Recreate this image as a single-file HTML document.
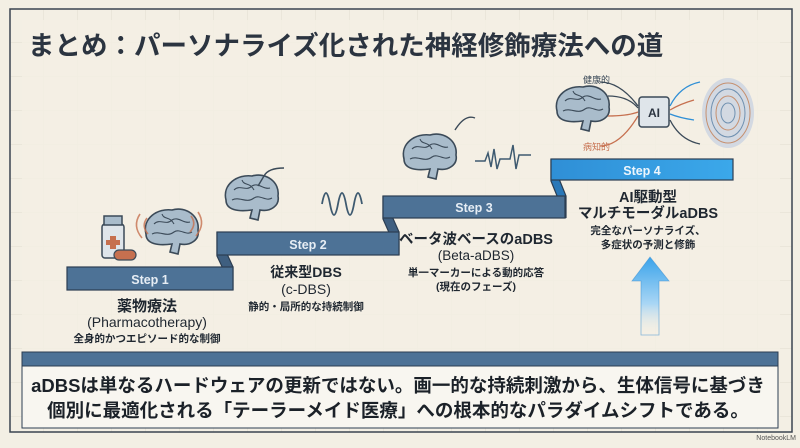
<!DOCTYPE html>
<html><head><meta charset="utf-8"><style>
html,body{margin:0;padding:0;}
body{width:800px;height:443px;overflow:hidden;background:#f3efe4;font-family:"Liberation Sans","Noto Sans CJK JP",sans-serif;}
svg text{font-family:"Liberation Sans","Noto Sans CJK JP",sans-serif;}
</style></head><body>
<svg width="800" height="443" viewBox="0 0 800 443" xmlns="http://www.w3.org/2000/svg">
<defs>
<pattern id="g" width="34" height="34" patternUnits="userSpaceOnUse" x="10" y="9">
<path d="M34 0V34M0 34H34" stroke="#e2ddd0" stroke-width="1" fill="none"/>
</pattern>
<linearGradient id="s4" x1="0" y1="0" x2="1" y2="0"><stop offset="0" stop-color="#2f8fd6"/><stop offset="1" stop-color="#3ba8ea"/></linearGradient>
<linearGradient id="ar" x1="0" y1="0" x2="0" y2="1"><stop offset="0" stop-color="#3aa3ea"/><stop offset="0.6" stop-color="#a9d6f5"/><stop offset="1" stop-color="#f3efe4" stop-opacity="0"/></linearGradient>
<g id="brain">
<path d="M-26 4 C-30 -12 -14 -22 0 -20 C14 -24 28 -14 26 0 C28 10 18 16 8 14 L6 24 L-2 22 L0 14 C-14 16 -26 14 -26 4Z" fill="#a9bccb" stroke="#3b4a58" stroke-width="1.6"/>
<path d="M-18 -6 C-12 -12 -6 -4 0 -10 C6 -14 12 -6 18 -8 M-20 4 C-12 0 -6 8 2 2 C8 -2 14 6 20 2 M-10 -16 C-8 -10 -2 -14 2 -6" stroke="#3b4a58" stroke-width="1.1" fill="none"/>
</g>
</defs>
<rect x="0" y="0" width="800" height="443" fill="#f3efe4"/>
<rect x="10" y="9" width="782" height="423" fill="url(#g)" stroke="#3b4450" stroke-width="1.5"/>
<rect x="22" y="20" width="758" height="400" fill="#f3efe4" opacity="0.85"/>
<text x="28" y="55" font-size="26.5" font-weight="bold" fill="#2b3440">まとめ：パーソナライズ化された神経修飾療法への道</text>

<g stroke="#2c3e52" stroke-width="1.2">
<polygon points="217,232 233,267 233,290 217,256" fill="#3f5f80"/>
<polygon points="383,196 399,232 399,255 383,219" fill="#3f5f80"/>
<polygon points="551,159 566,196 566,218 551,181" fill="#2a78b8"/>
<rect x="67" y="267" width="166" height="23" fill="#4d7296"/>
<rect x="217" y="232" width="182" height="23" fill="#4d7296"/>
<rect x="383" y="196" width="182" height="22" fill="#4d7296"/>
<rect x="551" y="159" width="182" height="21" fill="url(#s4)"/>
</g>
<g fill="#e6edf4" font-size="12.5" font-weight="bold" text-anchor="middle">
<text x="150" y="284">Step 1</text><text x="308" y="249">Step 2</text>
<text x="474" y="212">Step 3</text><text x="642" y="175" fill="#eef6fc">Step 4</text>
</g>
<g fill="#1f2730" text-anchor="middle" font-weight="bold">
<text x="147" y="311" font-size="15">薬物療法</text>
<text x="147" y="327" font-size="14" font-weight="normal">(Pharmacotherapy)</text>
<text x="147" y="342" font-size="10.5">全身的かつエピソード的な制御</text>
<text x="306" y="277" font-size="14">従来型DBS</text>
<text x="306" y="294" font-size="14" font-weight="normal">(c-DBS)</text>
<text x="306" y="310" font-size="10.5">静的・局所的な持続制御</text>
<text x="476" y="244" font-size="14.5">ベータ波ベースのaDBS</text>
<text x="476" y="260" font-size="13.5" font-weight="normal">(Beta-aDBS)</text>
<text x="476" y="276" font-size="10.5">単一マーカーによる動的応答</text>
<text x="476" y="290" font-size="10.5">(現在のフェーズ)</text>
<text x="648" y="202" font-size="14.5">AI駆動型</text>
<text x="648" y="218" font-size="14.5">マルチモーダルaDBS</text>
<text x="648" y="234" font-size="10.5">完全なパーソナライズ、</text>
<text x="648" y="248" font-size="10.5">多症状の予測と修飾</text>
</g>

<rect x="102" y="224" width="22" height="34" rx="3" fill="#dfe5ea" stroke="#3b4a58" stroke-width="1.5"/>
<rect x="104" y="216" width="18" height="9" fill="#a9bccb" stroke="#3b4a58" stroke-width="1.5"/>
<path d="M110 236h6v4h4v5h-4v4h-6v-4h-4v-5h4z" fill="#c6704f"/>
<rect x="114" y="250" width="22" height="10" rx="5" fill="#c6704f" stroke="#3b4a58" stroke-width="1.2"/>
<use href="#brain" x="172" y="230"/>
<path d="M140 214 q-8 12 2 24 M147 218 q-6 8 1 16 M198 212 q8 12 -2 24 M191 216 q6 8 -1 16" stroke="#c6704f" stroke-width="1.6" fill="none" opacity="0.8"/>
<use href="#brain" x="252" y="196"/>
<path d="M258 186 l6 -10 q4 -8 20 -8" stroke="#3b4a58" stroke-width="1.4" fill="none"/>
<path d="M322 204 q4 -22 8 0 q4 22 8 0 q4 -22 8 0 q4 22 8 0 q4 -22 8 0" stroke="#3e5a70" stroke-width="1.8" fill="none"/>
<use href="#brain" x="430" y="155"/>
<path d="M455 130 q10 -16 20 -12" stroke="#3b4a58" stroke-width="1.4" fill="none"/>
<path d="M475 161 h10 l3 -8 l3 14 l3 -18 l3 20 l3 -10 h10 l3 -14 l3 24 l3 -14 h12" stroke="#3e5a70" stroke-width="1.5" fill="none"/>
<use href="#brain" x="583" y="107"/>
<g fill="none" stroke-width="1.3">
<path d="M600 82 q20 0 38 24" stroke="#3b4a58"/><path d="M608 96 q20 0 30 12" stroke="#3b4a58"/>
<path d="M608 116 q20 0 30 -4" stroke="#c6704f"/><path d="M600 146 q20 0 38 -30" stroke="#c6704f"/>
<path d="M670 106 q10 -20 30 -24" stroke="#2f8fd6"/><path d="M670 120 q10 20 30 24" stroke="#3b4a58"/>
<path d="M670 110 q10 -6 24 -10" stroke="#c6704f"/><path d="M670 114 q10 4 24 6" stroke="#2f8fd6"/>
</g>
<rect x="639" y="97" width="30" height="30" rx="3" fill="#dfe5ea" stroke="#3b4a58" stroke-width="1.5"/>
<text x="654" y="117" font-size="12" font-weight="bold" fill="#2b3440" text-anchor="middle">AI</text>
<ellipse cx="728" cy="113" rx="26" ry="35" fill="#d3d9e2"/>
<g fill="none" stroke-width="1">
<ellipse cx="728" cy="113" rx="22" ry="30" stroke="#c6906f"/><ellipse cx="728" cy="113" rx="17" ry="24" stroke="#6f90b0"/>
<ellipse cx="728" cy="113" rx="12" ry="17" stroke="#c6906f"/><ellipse cx="728" cy="113" rx="7" ry="10" stroke="#6f90b0"/>
</g>
<text x="583" y="83" font-size="9" fill="#3b4a58">健康的</text>
<text x="583" y="150" font-size="9" fill="#c6704f">病知的</text>

<path d="M650 257 L669 281 L659 281 L659 335 L641 335 L641 281 L632 281 Z" fill="url(#ar)" stroke="#3a8fd0" stroke-width="0.8" stroke-opacity="0.6"/>

<rect x="22" y="352" width="756" height="14" fill="#4d7296" stroke="#2c3e52" stroke-width="1"/>
<rect x="22" y="366" width="756" height="62" fill="#f8f6f0" stroke="#2c3e52" stroke-width="1"/>
<g font-size="18.5" font-weight="bold" fill="#1b2128" text-anchor="middle">
<text x="398" y="392">aDBSは単なるハードウェアの更新ではない。画一的な持続刺激から、生体信号に基づき</text>
<text x="398" y="417">個別に最適化される「テーラーメイド医療」への根本的なパラダイムシフトである。</text>
</g>
<text x="796" y="440" font-size="7" fill="#555" text-anchor="end">NotebookLM</text>
</svg>
</body></html>
